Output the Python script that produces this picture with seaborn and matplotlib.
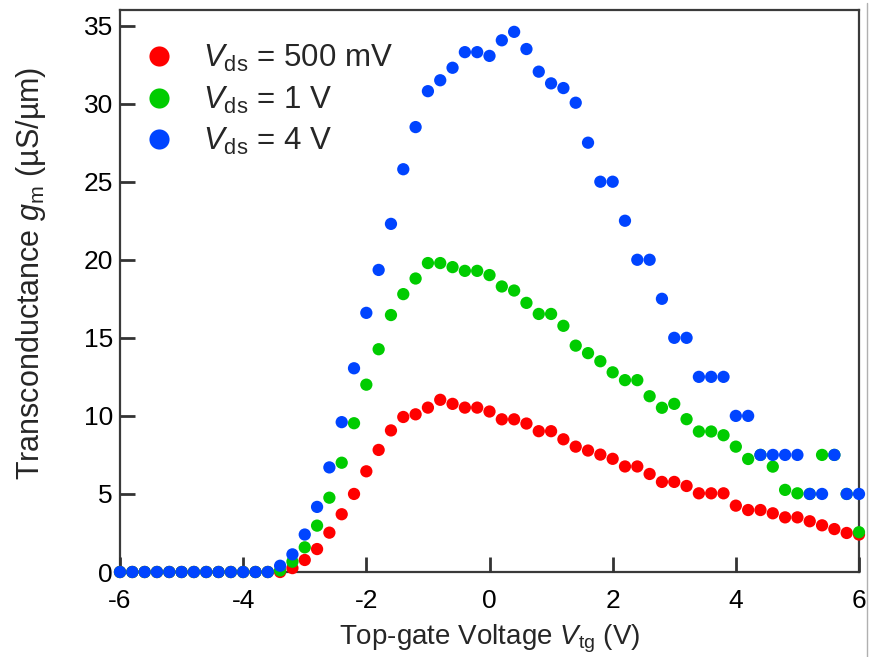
import numpy as np
import pandas as pd
import matplotlib
matplotlib.use("Agg")
import matplotlib.pyplot as plt
from matplotlib.lines import Line2D
import seaborn as sns

# Top-gate sweep, -6 V .. 6 V in 0.2 V steps
vtg = np.round(np.arange(-6.0, 6.0001, 0.2), 1)

zeros = [0.0] * 13  # -6.0 .. -3.6 V: device off

gm_500mV = zeros + [
    0.0, 0.25, 0.77, 1.47, 2.52, 3.7, 5.0, 6.45, 7.82, 9.07,
    9.93, 10.1, 10.53, 11.03, 10.77, 10.53, 10.53, 10.28, 9.78, 9.78,
    9.51, 9.02, 9.02, 8.5, 8.03, 7.78, 7.52, 7.25, 6.76, 6.76,
    6.28, 5.77, 5.77, 5.51, 5.04, 5.04, 5.04, 4.25, 3.97, 3.97,
    3.76, 3.5, 3.5, 3.25, 2.99, 2.75, 2.5, 2.4,
]

gm_1V = zeros + [
    0.1, 0.66, 1.58, 2.97, 4.76, 7.0, 9.53, 12.0, 14.27, 16.46,
    17.8, 18.8, 19.79, 19.79, 19.53, 19.29, 19.29, 19.02, 18.29, 18.03,
    17.24, 16.53, 16.53, 15.77, 14.5, 14.02, 13.5, 12.79, 12.29, 12.29,
    11.26, 10.52, 10.77, 9.79, 9.0, 9.0, 8.76, 8.03, 7.24, 7.5,
    6.75, 5.26, 5.04, 5.0, 7.5, 7.5, 5.0, 2.55,
]

gm_4V = zeros + [
    0.4, 1.13, 2.4, 4.17, 6.7, 9.6, 13.05, 16.6, 19.35, 22.3,
    25.8, 28.5, 30.8, 31.5, 32.3, 33.3, 33.3, 33.06, 34.06, 34.6,
    33.5, 32.05, 31.3, 31.0, 30.06, 27.5, 25.0, 25.0, 22.5, 20.0,
    20.0, 17.5, 15.0, 15.0, 12.5, 12.5, 12.5, 10.0, 10.0, 7.5,
    7.5, 7.5, 7.5, 5.0, 5.0, 7.5, 5.0, 5.0,
]

series_labels = [
    r"$V_\mathrm{ds}$ = 500 mV",
    r"$V_\mathrm{ds}$ = 1 V",
    r"$V_\mathrm{ds}$ = 4 V",
]
series_colors = ["#ff0000", "#00cc00", "#0044ff"]

df = pd.concat(
    [
        pd.DataFrame({"Vtg": vtg, "gm": vals, "series": lab})
        for vals, lab in zip([gm_500mV, gm_1V, gm_4V], series_labels)
    ],
    ignore_index=True,
)

sns.set_theme(style="white")
plt.rcParams["font.family"] = ["Liberation Sans", "DejaVu Sans"]
plt.rcParams["mathtext.fontset"] = "custom"
plt.rcParams["mathtext.rm"] = "Liberation Sans"
plt.rcParams["mathtext.it"] = "Liberation Sans:italic"
plt.rcParams["axes.unicode_minus"] = False
plt.rcParams["axes.axisbelow"] = False

fig = plt.figure(figsize=(8.77, 6.57), dpi=100)
ax = fig.add_axes([120 / 877, 1 - 572 / 657, (859 - 120) / 877, (572 - 10) / 657])

sns.scatterplot(
    data=df, x="Vtg", y="gm", hue="series",
    palette=dict(zip(series_labels, series_colors)),
    hue_order=series_labels,
    s=78, edgecolor="none", linewidth=0, clip_on=False, zorder=3, ax=ax,
)

ax.set_xlim(-6, 6)
ax.set_ylim(0, 36)
ax.set_xticks([-6, -4, -2, 0, 2, 4, 6])
ax.set_yticks([0, 5, 10, 15, 20, 25, 30, 35])

fs = 19
ax.tick_params(which="major", bottom=True, left=True, top=False, right=False,
               direction="in", length=11, width=2, color="#333333",
               labelcolor="black", labelsize=fs)
ax.tick_params(axis="x", pad=12)
ax.tick_params(axis="y", pad=5)
for sp in ax.spines.values():
    sp.set_visible(True)
    sp.set_linewidth(1.6)
    sp.set_color("#3a3a3a")

ax.set_xlabel(r"Top-gate Voltage $V_\mathrm{tg}$ (V)", fontsize=20)
ax.set_ylabel(r"Transconductance $g_\mathrm{m}$ (µS/µm)", fontsize=22)
ax.xaxis.set_label_coords(0.5, -0.09)
ax.yaxis.set_label_coords(-0.097, 0.532)

handles = [
    Line2D([], [], marker="o", linestyle="none", markersize=14.5,
           markerfacecolor=c, markeredgecolor="none")
    for c in series_colors
]
ax.legend(handles, series_labels, loc="upper left", frameon=False,
          fontsize=22.5, bbox_to_anchor=(-0.006, 0.977), borderaxespad=0.25,
          handletextpad=0.65, labelspacing=0.33, handlelength=1.5)

# thin grey border line at the right edge of the canvas
fig.add_artist(Line2D([867 / 877, 867 / 877], [0, 1 - 3 / 657],
                      transform=fig.transFigure, color="#b0b0b0", lw=1))

fig.savefig("out.png", dpi=100)
